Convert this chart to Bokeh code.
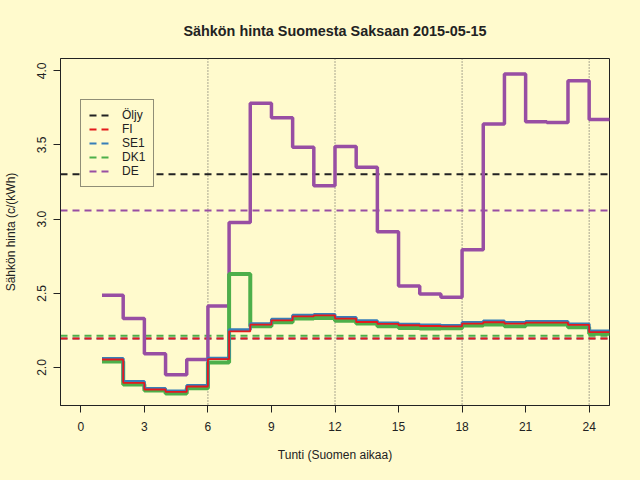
from bokeh.plotting import figure
from bokeh.models import Range1d, FixedTicker, PrintfTickFormatter, Span, Legend, LegendItem
from bokeh.embed import file_html
from bokeh.resources import INLINE

# ---- data ----
hours = list(range(1, 25))
FI = [2.054, 1.897, 1.852, 1.836, 1.872, 2.056, 2.244, 2.289, 2.318, 2.345, 2.352, 2.330,
      2.307, 2.294, 2.285, 2.280, 2.278, 2.296, 2.305, 2.296, 2.303, 2.303, 2.287, 2.238]
SE1 = [2.060, 1.905, 1.858, 1.842, 1.878, 2.062, 2.254, 2.295, 2.326, 2.353, 2.358, 2.338,
       2.315, 2.300, 2.292, 2.286, 2.284, 2.304, 2.313, 2.303, 2.310, 2.311, 2.294, 2.246]
DK1 = [2.040, 1.885, 1.845, 1.825, 1.860, 2.034, 2.630, 2.278, 2.305, 2.330, 2.334, 2.316,
       2.296, 2.278, 2.267, 2.263, 2.265, 2.283, 2.290, 2.278, 2.290, 2.290, 2.271, 2.227]
DE = [2.487, 2.330, 2.092, 1.951, 2.054, 2.415, 2.978, 3.781, 3.684, 3.485, 3.225, 3.489,
      3.350, 2.915, 2.550, 2.496, 2.473, 2.794, 3.642, 3.978, 3.657, 3.651, 3.933, 3.671]

# daily averages (horizontal dashed lines)
avg_names = ["Öljy", "FI", "SE1", "DK1", "DE"]
avg_values = [3.303, 2.195, 2.195, 2.215, 3.059]

x_ticks = [0, 3, 6, 9, 12, 15, 18, 21, 24]
y_ticks = [2.0, 2.5, 3.0, 3.5, 4.0]
vlines = [6, 12, 18, 24]
xlim = (-0.96, 24.96)
ylim = (1.744, 4.083)
title_text = "Sähkön hinta Suomesta Saksaan 2015-05-15"

# ---- styles ----
BG = "#FFFACD"
INK = "#222222"
FONT = "Liberation Sans"
colors = {"Öljy": "#222222", "FI": "#E41A1C", "SE1": "#377EB8", "DK1": "#4DAF4A", "DE": "#984EA3"}

p = figure(width=624, height=464, output_backend="svg", toolbar_location=None,
           x_range=Range1d(*xlim), y_range=Range1d(*ylim),
           min_border_left=59, min_border_right=15, min_border_top=58, min_border_bottom=58)
p.background_fill_color = BG
p.border_fill_color = BG
p.outline_line_color = INK
p.outline_line_width = 1
p.grid.visible = False

p.title.text = title_text
p.title.align = "center"
p.title.text_font = FONT
p.title.text_font_size = "14.4px"
p.title.text_font_style = "bold"
p.title.text_color = INK
p.title.standoff = 40

for ax in (p.xaxis[0], p.yaxis[0]):
    ax.axis_line_color = INK
    ax.major_tick_line_color = INK
    ax.major_tick_in = 0
    ax.major_tick_out = 7
    ax.minor_tick_line_color = None
    ax.major_label_text_font = FONT
    ax.major_label_text_font_size = "12px"
    ax.major_label_text_color = INK
    ax.axis_label_text_font = FONT
    ax.axis_label_text_font_size = "12px"
    ax.axis_label_text_font_style = "normal"
    ax.axis_label_text_color = INK

p.xaxis.ticker = FixedTicker(ticks=x_ticks)
p.yaxis.ticker = FixedTicker(ticks=y_ticks)
p.yaxis.formatter = PrintfTickFormatter(format="%.1f")
p.yaxis.major_label_orientation = "vertical"
p.xaxis.axis_label = "Tunti (Suomen aikaa)"
p.yaxis.axis_label = "Sähkön hinta (c/(kWh)"
p.xaxis.major_label_standoff = 9
p.xaxis.axis_label_standoff = 14
p.yaxis.major_label_standoff = 7
p.yaxis.axis_label_standoff = 17

for v in vlines:
    p.add_layout(Span(location=v, dimension="height", line_color="#555555",
                      line_width=1, line_dash="1 2", level="underlay"))

# horizontal average lines (drawn in an order so that FI covers SE1)
avg_renderers = {}
for name in ["Öljy", "DE", "SE1", "DK1", "FI"]:
    v = avg_values[avg_names.index(name)]
    r = p.line(x=list(xlim), y=[v, v], line_color=colors[name], line_width=2, line_dash="7 5")
    avg_renderers[name] = r

def steps(vals):
    return hours + [hours[-1] + 1], vals + [vals[-1]]

x, y = steps(DE)
p.step(x, y, mode="after", line_color=colors["DE"], line_width=3.5)
x, y = steps(DK1)
p.step(x, y, mode="after", line_color=colors["DK1"], line_width=4)
x, y = steps(SE1)
p.step(x, y, mode="after", line_color=colors["SE1"], line_width=3)
x, y = steps(FI)
p.step(x, y, mode="after", line_color=colors["FI"], line_width=1.8)

legend = Legend(items=[LegendItem(label=n, renderers=[avg_renderers[n]]) for n in avg_names],
                location=(20, 218))
legend.background_fill_color = BG
legend.background_fill_alpha = 1
legend.border_line_color = INK
legend.border_line_width = 1
legend.label_text_font = FONT
legend.label_text_font_size = "12px"
legend.label_text_color = INK
legend.glyph_width = 20
legend.glyph_height = 14
legend.label_height = 14
legend.label_standoff = 13
legend.spacing = 0
legend.padding = 8
legend.margin = 0
p.add_layout(legend, "center")

html = file_html(p, INLINE)
html = html.replace("<head>", "<head><style>html, body { background: #FFFACD; }</style>", 1)
open("out.html", "w").write(html)
